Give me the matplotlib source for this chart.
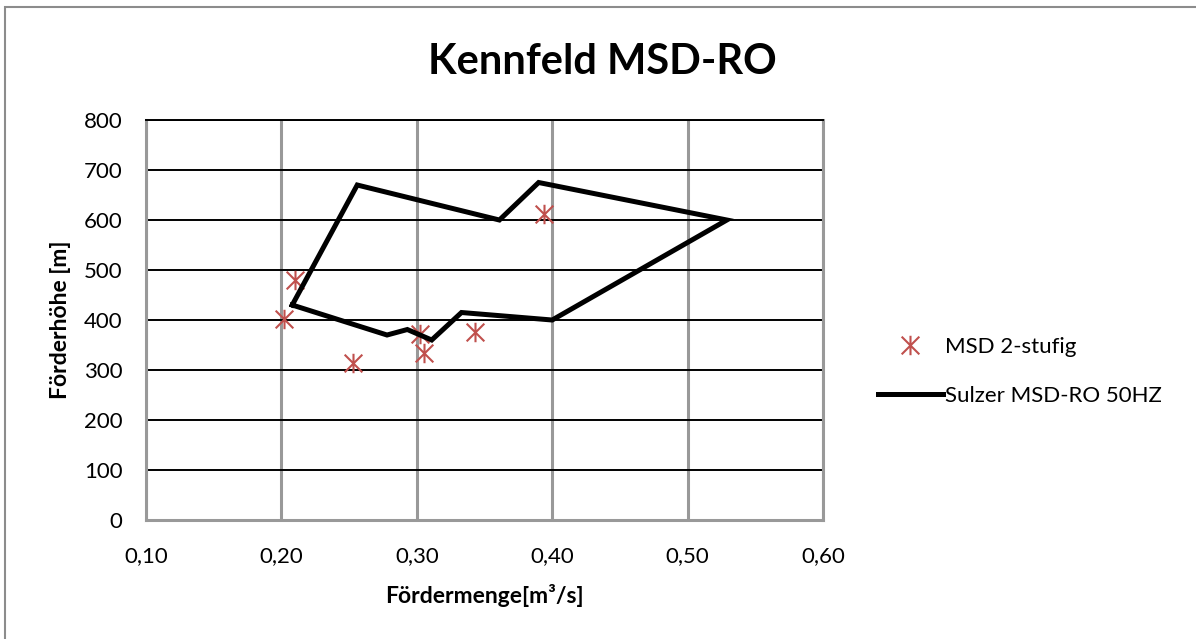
import matplotlib.pyplot as plt
from matplotlib.patches import Rectangle
from matplotlib.path import Path
from matplotlib.ticker import FuncFormatter

plt.rcParams['font.family'] = ['Lato', 'DejaVu Sans']

# Messpunkte MSD 2-stufig
msd_q = [0.202, 0.210, 0.253, 0.3025, 0.305, 0.343, 0.394]
msd_h = [403, 481, 315, 373, 335, 377, 613]

# Kennfeldgrenze Sulzer MSD-RO 50HZ (geschlossener Linienzug)
sulzer_q = [0.208, 0.256, 0.361, 0.390, 0.529, 0.400, 0.333, 0.311, 0.293, 0.278, 0.208]
sulzer_h = [430, 670, 600, 675, 600, 400, 415, 360, 381, 370, 430]

# Stern-Marker: X plus senkrechter Strich
star = Path([(-1, -1), (1, 1), (-1, 1), (1, -1), (0, -1.1), (0, 1.1)],
            [Path.MOVETO, Path.LINETO, Path.MOVETO, Path.LINETO, Path.MOVETO, Path.LINETO])

fig = plt.figure(figsize=(11.96, 6.39), dpi=100)
ax = fig.add_axes([0.1221, 0.1862, 0.566, 0.626])

ax.plot(msd_q, msd_h, linestyle='none', marker=star, markersize=14,
        markeredgewidth=1.5, color='#C0504D', label='MSD 2-stufig', zorder=3)
ax.plot(sulzer_q, sulzer_h, color='black', linewidth=3.6,
        solid_joinstyle='miter', label='Sulzer MSD-RO 50HZ', zorder=4)

ax.set_xlim(0.10, 0.60)
ax.set_ylim(0, 800)
ax.set_xticks([0.1, 0.2, 0.3, 0.4, 0.5, 0.6])
ax.set_yticks(range(0, 801, 100))
ax.xaxis.set_major_formatter(FuncFormatter(lambda v, p: f'{v:.2f}'.replace('.', ',')))
ax.tick_params(length=0, labelsize=16)
ax.tick_params(axis='y', pad=17)
ax.tick_params(axis='x', pad=18.5)

ax.grid(axis='x', color='#999999', linewidth=2.2)
ax.grid(axis='y', color='black', linewidth=1.4)
ax.set_axisbelow(True)
for s in ['left', 'right', 'bottom']:
    ax.spines[s].set_color('#999999')
    ax.spines[s].set_linewidth(2.2)
ax.spines['top'].set_color('black')
ax.spines['top'].set_linewidth(1.4)

ax.set_xlabel('Fördermenge[m³/s]', fontsize=16.5, fontweight='bold', labelpad=13)
ax.set_ylabel('Förderhöhe [m]', fontsize=16.5, fontweight='bold', labelpad=9)
fig.suptitle('Kennfeld MSD-RO', x=0.504, y=0.903, va='center', fontsize=30, fontweight='bold')

ax.legend(loc='center left', bbox_to_anchor=(1.052, 0.372), frameon=False,
          fontsize=16, handlelength=2.9, handletextpad=0.1, labelspacing=1.3)

fig.patches.append(Rectangle((0.004, -0.05), 1.1, 1.039, transform=fig.transFigure,
                             fill=False, edgecolor='#8c8c8c', linewidth=1.5))

fig.savefig('out.png', dpi=100)
